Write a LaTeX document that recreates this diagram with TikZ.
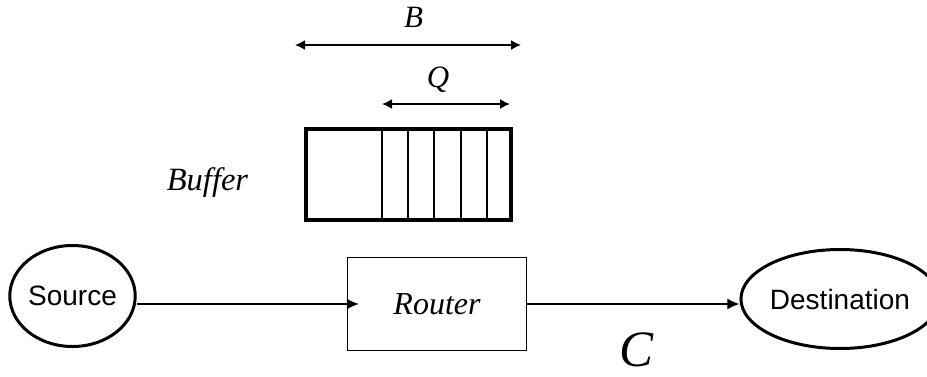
\documentclass[tikz,border=0pt]{standalone}
\usepackage{fontspec}
\setmainfont{Liberation Serif}
\setsansfont{Liberation Sans}
\usetikzlibrary{shapes.geometric, arrows.meta}
\tikzstyle{endpoint} = [ellipse, draw=black, line width=3pt, inner sep=0pt,
  font=\sffamily\fontsize{28}{32}\selectfont]
\tikzstyle{process} = [rectangle, draw=black, line width=1.3pt,
  minimum width=179pt, minimum height=93pt, text centered,
  font=\itshape\fontsize{32}{36}\selectfont]
\tikzstyle{label} = [font=\itshape\fontsize{31}{36}\selectfont, anchor=base, inner sep=0pt]
\tikzstyle{arrow} = [line width=1.5pt, -{Latex[length=12pt,width=11pt]}]
\tikzstyle{span} = [line width=1.6pt, {Latex[length=10pt,width=10pt]}-{Latex[length=10pt,width=10pt]}]

\begin{document}
\begin{tikzpicture}[x=1pt, y=-1pt]
\useasboundingbox (0,0) rectangle (927,376);

%% nodes
\node (source) [endpoint, minimum width=122pt, minimum height=101pt] at (72.5,296) {Source};
\node (router) [process] at (437,304) {Router};
\node (dest) [endpoint, minimum width=170pt, minimum height=99pt] at (840,299) {Destination};
\node (buffer) [rectangle, draw=black, line width=4.5pt, inner sep=0pt,
  minimum width=205pt, minimum height=91pt] at (408.5,174.5) {};
\node (bufferLabel) [label, font=\itshape\fontsize{32.5}{36}\selectfont] at (207.5,190) {Buffer};
\node (bLabel) [label] at (413.5,27) {B};
\node (qLabel) [label] at (438,87) {Q};
\node (cLabel) [label, font=\itshape\fontsize{51}{56}\selectfont] at (637,366) {C};
\coordinate (bLeft) at (295,45);
\coordinate (bRight) at (521,45);
\coordinate (qLeft) at (382,104);
\coordinate (qRight) at (510,104);

%% paths
\foreach \x in {382,408,434,461,487}
  \draw [line width=2pt] (\x,0 |- buffer.north) -- (\x,0 |- buffer.south);
\draw [span] (bLeft) -- (bRight);
\draw [span] (qLeft) -- (qRight);
\draw [arrow] (source.east |- router.west) -- ([xshift=12pt]router.west);
\draw [arrow] (router.east) -- (router.east -| dest.west);

\end{tikzpicture}
\end{document}
